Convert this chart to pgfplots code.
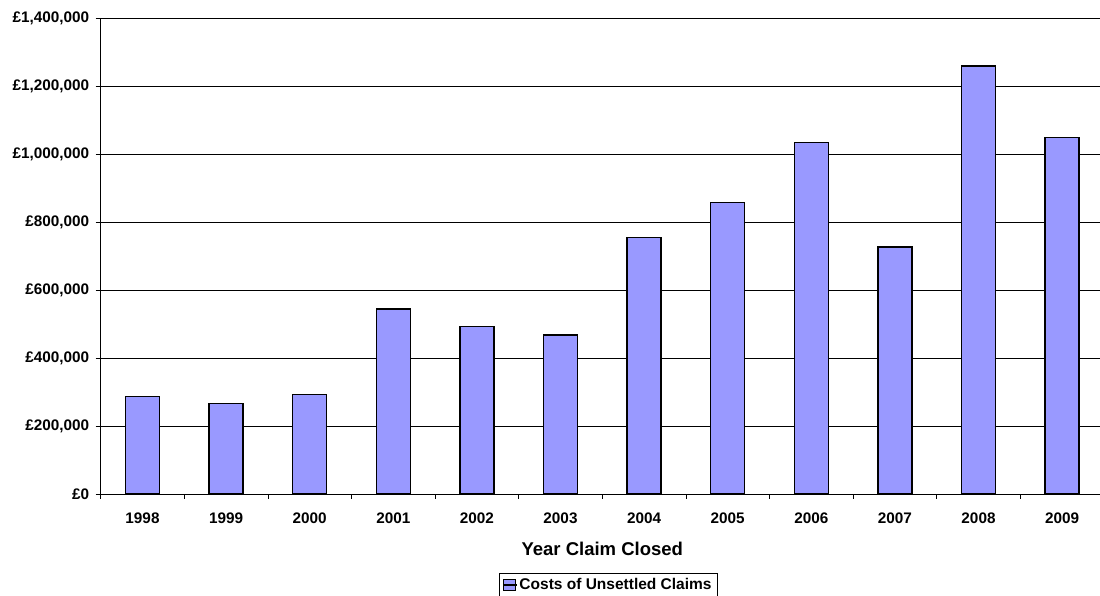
\documentclass[border=0pt]{standalone}
\usepackage{pgfplots}
\pgfplotsset{compat=1.18}
\usepackage{fontspec}
\setmainfont{Liberation Sans}
\definecolor{barblue}{HTML}{9999FF}
\begin{document}
\begin{tikzpicture}
\begin{axis}[
  name=ax, at={(0,0)}, anchor=south west,
  scale only axis, width=1003.2pt, height=476pt,
  xmin=-0.5, xmax=11.5, ymin=0, ymax=1400000,
  axis x line*=bottom, axis y line*=left,
  axis line style={black, line width=0.9pt},
  xtick={0,...,11},
  xticklabels={1998,1999,2000,2001,2002,2003,2004,2005,2006,2007,2008,2009},
  major x tick style={draw=none},
  minor xtick={-0.5,0.5,...,11.5},
  ytick={0,200000,400000,600000,800000,1000000,1200000,1400000},
  yticklabels={{£0},{£200,000},{£400,000},{£600,000},{£800,000},{£1,000,000},{£1,200,000},{£1,400,000}},
  scaled y ticks=false,
  tick align=outside,
  major tick length=5pt, minor tick length=5pt,
  tick style={black, line width=0.8pt},
  ymajorgrids, grid style={black, line width=0.8pt},
  ticklabel style={font=\fontsize{15.3}{18}\selectfont\bfseries},
  xticklabel style={yshift=-10pt},
  yticklabel style={xshift=-3pt},
  xlabel={Year Claim Closed},
  xlabel style={font=\fontsize{18.5}{22}\selectfont\bfseries, yshift=-12pt},
  legend style={at={(0.506,0)}, anchor=north, yshift=-79.3pt, draw=black, line width=0.8pt,
    inner xsep=3.5pt, inner ysep=3pt, font=\fontsize{15.5}{18}\selectfont\bfseries,
    legend cell align=left},
  legend image code/.code={\draw[fill=barblue,draw=black,line width=0.8pt] (0pt,-5.5pt) rectangle (11.5pt,5.5pt);
    \path (0pt,0pt) -- (13pt,0pt);},
]
\addplot[ybar, bar width=34pt, fill=barblue, draw=black, line width=1.4pt] coordinates {
  (0,286000) (1,267000) (2,293000) (3,544000) (4,492000) (5,468000)
  (6,755000) (7,857000) (8,1033000) (9,726000) (10,1259000) (11,1048000)
};
\addlegendentry{Costs of Unsettled Claims}
\end{axis}
\pgfresetboundingbox
\path ([shift={(-100.7pt,-102pt)}]ax.south west) rectangle ([shift={(-3.9pt,18pt)}]ax.north east);
\end{tikzpicture}
\end{document}
